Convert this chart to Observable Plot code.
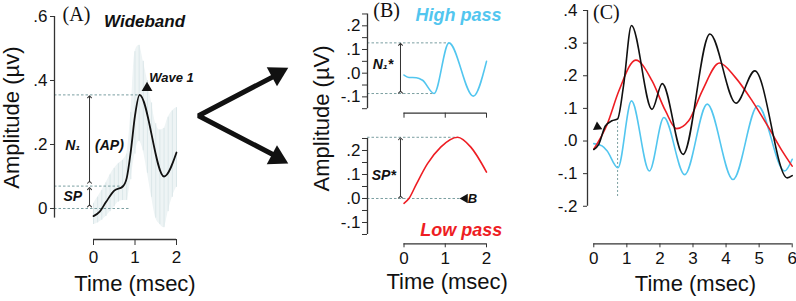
<!DOCTYPE html>
<html><head><meta charset="utf-8">
<script src="https://cdn.jsdelivr.net/npm/d3@7"></script>
<script src="https://cdn.jsdelivr.net/npm/@observablehq/plot@0.6"></script>
<style>
html,body{margin:0;padding:0;background:#fff;}
#chart{position:relative;width:796px;height:301px;overflow:hidden;background:#fff;}
#chart svg{position:absolute;left:0;top:0;}
</style></head><body><div id="chart"></div>
<script>
// ---------- DATA ----------
// Panel A: wideband response (mean) and its error range
const aTime = [0, 0.15, 0.3, 0.5, 0.7, 0.8, 0.9, 1.0, 1.11, 1.7, 2.0];
const aWide = [-0.024, -0.01, 0.02, 0.056, 0.068, 0.095, 0.18, 0.29, 0.355, 0.1, 0.175];
const aErrTime = [0, 0.1, 0.2, 0.3, 0.4, 0.5, 0.6, 0.7, 0.8, 0.9, 1.0, 1.1, 1.2, 1.3, 1.4, 1.5, 1.6, 1.7, 1.8, 1.9, 2.0];
const aErrHigh = [0.015, 0.035, 0.056, 0.08, 0.105, 0.125, 0.14, 0.15, 0.17, 0.30, 0.49, 0.51, 0.46, 0.40, 0.33, 0.265, 0.245, 0.25, 0.285, 0.305, 0.315];
const aErrLow  = [-0.05, -0.045, -0.037, -0.025, -0.01, 0.005, 0.02, 0.025, 0.025, 0.09, 0.17, 0.21, 0.18, 0.11, 0.035, -0.03, -0.05, -0.06, -0.01, 0.035, 0.066];
const aYTicks = [0, 0.2, 0.4, 0.6];
const aYLabels = ["0", ".2", ".4", ".6"];
const aXTicks = [0, 1, 2];
const aXLabels = ["0", "1", "2"];
// Panel A reference levels
const aLevelN1 = 0.355, aLevelSP = 0.07, aLevelBase = 0;

// Panel B: high-pass (top) and low-pass (bottom) components
const bHighTime = [0, 0.12, 0.3, 0.45, 0.73, 1.09, 1.68, 2.0];
const bHigh     = [-0.008, -0.018, -0.019, -0.03, -0.086, 0.128, -0.097, 0.05];
const bLowTime  = [0, 0.12, 0.3, 0.57, 0.89, 1.3, 1.62, 2.0];
const bLow      = [-0.02, 0, 0.06, 0.145, 0.214, 0.255, 0.214, 0.11];
const bYTicks = [-0.15, -0.1, -0.05, 0, 0.05, 0.1, 0.15, 0.2, 0.25];
const bYLabels = ["", "-.1", "", ".0", "", ".1", "", ".2", ""];
const bXTicks = [0, 1, 2];
const bXLabels = ["0", "1", "2"];
const bLevelN1Top = 0.128, bLevelN1Bottom = -0.086, bLevelSP = 0.255, bLevelBase = 0;

// Panel C: wideband, low pass and high pass over 6 ms
const cWideTime = [0, 0.15, 0.35, 0.55, 0.72, 0.9, 1.14, 1.76, 2.07, 2.7, 3.51, 4.3, 4.87, 5.85, 6.0];
const cWide     = [-0.026, -0.01, 0.046, 0.062, 0.068, 0.17, 0.354, 0.097, 0.176, -0.041, 0.328, 0.116, 0.215, -0.113, -0.106];
const cLowTime  = [0, 0.4, 0.76, 1.27, 1.76, 2.17, 2.5, 2.87, 3.28, 3.8, 4.28, 4.79, 5.29, 5.7, 6.0];
const cLow      = [-0.025, 0.05, 0.154, 0.248, 0.185, 0.092, 0.038, 0.062, 0.154, 0.239, 0.195, 0.123, 0.041, -0.031, -0.077];
const cHighTime = [0, 0.25, 0.4, 0.73, 1.14, 1.68, 2.12, 2.75, 3.43, 4.21, 4.96, 5.77, 6.0];
const cHigh     = [-0.008, -0.015, -0.03, -0.082, 0.123, -0.092, 0.072, -0.103, 0.113, -0.118, 0.108, -0.092, -0.056];
const cYTicks = [-0.2, -0.1, 0, 0.1, 0.2, 0.3, 0.4];
const cYLabels = ["-.2", "-.1", ".0", ".1", ".2", ".3", ".4"];
const cXTicks = [0, 1, 2, 3, 4, 5, 6];
const cXLabels = ["0", "1", "2", "3", "4", "5", "6"];
const cPlateauTime = 0.72, cPlateauLevel = 0.068;

const xTitle = "Time (msec)";
const aYTitle = "Amplitude (\u00B5v)";
const bYTitle = "Amplitude (\u00B5V)";

// ---------- STYLE ----------
const SANS = "'Liberation Sans', Arial, Helvetica, sans-serif";
const SERIF = "'Liberation Serif', 'Times New Roman', serif";
const INK = "#111";
const AXIS = "#333";
const CYAN = "#52c6ef";
const RED = "#ee1d23";
const DASH = "#7b9fa1";
const TICK_FS = 17;
const TITLE_FS = 22;

const zip = (ts, vs) => ts.map((t, i) => ({t, v: vs[i]}));
const fmt = (ticks, labels) => { const m = new Map(ticks.map((t, i) => [t, labels[i]])); return d => m.get(d) ?? ""; };
const note = (x, y, label, o = {}) => Plot.text([{x, y, label}], {x: "x", y: "y", text: "label", fontFamily: SANS, fontWeight: "bold", fontStyle: "italic", fontSize: 14, fill: INK, ...o});
const head = (x, y, rotate, r = 3.5) => Plot.dot([{x, y}], {x: "x", y: "y", symbol: "triangle", r, rotate, fill: INK, stroke: "none"});
const dashed = (level, x1, x2, o = {}) => Plot.ruleY([level], {x1, x2, stroke: DASH, strokeDasharray: "2.5,2", strokeWidth: 1, ...o});
const dbl = (x, y1, y2) => Plot.link([{x, y1, y2}], {x1: "x", x2: "x", y1: "y1", y2: "y2", stroke: AXIS, strokeWidth: 1, markerStart: "arrow", markerEnd: "arrow"});
const xLabel = (mid, dy) => Plot.text([xTitle], {x: () => mid, frameAnchor: "bottom", lineAnchor: "middle", dy, fontSize: TITLE_FS, fill: INK});

function panel(o) {
  return Plot.plot({
    width: 796, height: 301,
    marginLeft: o.mL, marginRight: o.mR, marginTop: o.mT, marginBottom: o.mB,
    x: {domain: o.xDomain}, y: {domain: o.yDomain},
    style: {background: "transparent", overflow: "visible", fontFamily: SANS, color: INK},
    marks: o.marks
  });
}

const chart = document.getElementById("chart");

// ---------- PANEL A ----------
const aX = [-0.94, 2.0], aY = [-0.0969, 0.6];
const aErr = aErrTime.map((t, i) => ({t, lo: aErrLow[i], hi: aErrHigh[i]}));
chart.append(panel({
  mL: 54, mR: 620, mT: 16, mB: 62, xDomain: aX, yDomain: aY,
  marks: [
    Plot.areaY(aErr, {x: "t", y1: "lo", y2: "hi", fill: "#eef4f5", curve: "monotone-x"}),
    Plot.ruleX(aErr, {x: "t", y1: "lo", y2: "hi", stroke: "#dbe7e9", strokeWidth: 1}),
    dashed(aLevelN1, aX[0], 1.13),
    dashed(aLevelSP, aX[0], 0.77),
    dashed(aLevelBase, aX[0], 0.9),
    dbl(-0.096, aLevelSP + 0.012, aLevelN1 - 0.006),
    dbl(-0.096, aLevelBase + 0.008, aLevelSP - 0.008),
    Plot.line(zip(aTime, aWide), {x: "t", y: "v", stroke: INK, strokeWidth: 1.8, curve: "monotone-x"}),
    Plot.ruleX([aX[0]], {y1: -0.03, y2: aYTicks[aYTicks.length - 1], stroke: AXIS, strokeWidth: 1.3}),
    Plot.ruleY([aY[0]], {x1: aXTicks[0], x2: aXTicks[aXTicks.length - 1], stroke: AXIS, strokeWidth: 1.3}),
    Plot.axisY(aYTicks, {anchor: "left", tickSize: 4, tickPadding: 3, tickFormat: fmt(aYTicks, aYLabels), fontSize: TICK_FS, stroke: AXIS, label: null}),
    Plot.axisX(aXTicks, {anchor: "bottom", tickSize: 6, tickPadding: 5, tickFormat: fmt(aXTicks, aXLabels), fontSize: TICK_FS, stroke: AXIS, label: null}),
    xLabel(1, 44),
    note(-1.976, 0.284, aYTitle, {rotate: -90, fontSize: TITLE_FS, fontWeight: "normal", fontStyle: "normal"}),
    note(-0.41, 0.605, "(A)", {fontFamily: SERIF, fontWeight: "normal", fontStyle: "normal", fontSize: 20}),
    note(1.23, 0.584, "Wideband", {fontSize: 17}),
    note(1.88, 0.409, "Wave 1", {fontSize: 13}),
    head(1.29, 0.377, 240, 4),
    note(-0.5, 0.197, "N\u2081", {fontSize: 14}),
    note(0.385, 0.197, "(AP)", {fontSize: 14}),
    note(-0.5, 0.036, "SP", {fontSize: 14}),
    // large arrows from wideband to the filtered components
    Plot.line([{t: 4.45, v: 0.42}, {t: 2.53, v: 0.29}, {t: 4.45, v: 0.16}], {x: "t", y: "v", stroke: INK, strokeWidth: 5, strokeLinejoin: "miter", curve: "linear"}),
    head(4.43, 0.421, 61.6, 8),
    head(4.43, 0.159, 118.4, 8)
  ]
}));

// ---------- PANEL B (top: high pass) ----------
const bX = [-0.885, 2.0];
const bTopY = [-0.169, 0.252];
chart.append(panel({
  mL: 367, mR: 310, mT: 13, mB: 188.3, xDomain: bX, yDomain: bTopY,
  marks: [
    dashed(bLevelN1Top, bX[0], 1.09),
    dashed(bLevelN1Bottom, bX[0], 0.73),
    dbl(-0.085, bLevelN1Bottom + 0.006, bLevelN1Top - 0.006),
    Plot.line(zip(bHighTime, bHigh), {x: "t", y: "v", stroke: CYAN, strokeWidth: 1.6, curve: "monotone-x"}),
    Plot.ruleX([bX[0]], {y1: bYTicks[0], y2: bYTicks[bYTicks.length - 1], stroke: AXIS, strokeWidth: 1.3}),
    Plot.ruleY([bTopY[0]], {x1: bXTicks[0], x2: bXTicks[bXTicks.length - 1], stroke: AXIS, strokeWidth: 1.3}),
    Plot.axisY(bYTicks, {anchor: "left", tickSize: 5, tickPadding: 2, tickFormat: fmt(bYTicks, bYLabels), fontSize: TICK_FS, stroke: AXIS, label: null}),
    Plot.axisX(bXTicks, {anchor: "bottom", tickSize: 5, tickPadding: 4, tickFormat: () => "", fontSize: TICK_FS, stroke: AXIS, label: null}),
    note(-1.983, -0.191, bYTitle, {rotate: -90, fontSize: TITLE_FS, fontWeight: "normal", fontStyle: "normal"}),
    note(-0.42, 0.266, "(B)", {fontFamily: SERIF, fontWeight: "normal", fontStyle: "normal", fontSize: 20}),
    note(1.32, 0.243, "High pass", {fontSize: 18, fill: CYAN}),
    note(-0.51, 0.035, "N\u2081*", {fontSize: 14})
  ]
}));

// ---------- PANEL B (bottom: low pass) ----------
const bBotY = [-0.1888, 0.2583];
chart.append(panel({
  mL: 367, mR: 310, mT: 136, mB: 57.7, xDomain: bX, yDomain: bBotY,
  marks: [
    dashed(bLevelSP, bX[0], 1.3),
    dashed(bLevelBase, bX[0], 1.37),
    dbl(-0.085, bLevelBase + 0.006, bLevelSP - 0.006),
    head(1.48, 0, 270, 3.5),
    note(1.66, 0, "B", {fontSize: 13}),
    Plot.line(zip(bLowTime, bLow), {x: "t", y: "v", stroke: RED, strokeWidth: 1.6, curve: "monotone-x"}),
    Plot.ruleX([bX[0]], {y1: bYTicks[0], y2: bYTicks[bYTicks.length - 1], stroke: AXIS, strokeWidth: 1.3}),
    Plot.ruleY([bBotY[0]], {x1: bXTicks[0], x2: bXTicks[bXTicks.length - 1], stroke: AXIS, strokeWidth: 1.3}),
    Plot.axisY(bYTicks, {anchor: "left", tickSize: 5, tickPadding: 2, tickFormat: fmt(bYTicks, bYLabels), fontSize: TICK_FS, stroke: AXIS, label: null}),
    Plot.axisX(bXTicks, {anchor: "bottom", tickSize: 4, tickPadding: 4, tickFormat: fmt(bXTicks, bXLabels), fontSize: TICK_FS, stroke: AXIS, label: null}),
    xLabel(1.047, 38.4),
    note(-0.49, 0.096, "SP*", {fontSize: 14}),
    note(1.39, -0.133, "Low pass", {fontSize: 18, fill: RED})
  ]
}));

// ---------- PANEL C ----------
const cX = [-0.19, 6.0], cY = [-0.315, 0.4];
chart.append(panel({
  mL: 587, mR: 4.3, mT: 10, mB: 57.7, xDomain: cX, yDomain: cY,
  marks: [
    Plot.ruleX([cPlateauTime], {y1: -0.17, y2: cPlateauLevel, stroke: DASH, strokeDasharray: "2,2", strokeWidth: 1}),
    Plot.line(zip(cHighTime, cHigh), {x: "t", y: "v", stroke: CYAN, strokeWidth: 1.6, curve: "monotone-x"}),
    Plot.line(zip(cLowTime, cLow), {x: "t", y: "v", stroke: RED, strokeWidth: 1.6, curve: "monotone-x"}),
    Plot.line(zip(cWideTime, cWide), {x: "t", y: "v", stroke: INK, strokeWidth: 1.6, curve: "monotone-x"}),
    head(0.11, 0.043, 115, 3.5),
    Plot.ruleX([cX[0]], {y1: cYTicks[0], y2: cYTicks[cYTicks.length - 1], stroke: AXIS, strokeWidth: 1.3}),
    Plot.ruleY([cY[0]], {x1: cXTicks[0], x2: cXTicks[cXTicks.length - 1], stroke: AXIS, strokeWidth: 1.3}),
    Plot.axisY(cYTicks, {anchor: "left", tickSize: 4, tickPadding: 6, tickFormat: fmt(cYTicks, cYLabels), fontSize: TICK_FS, stroke: AXIS, label: null}),
    Plot.axisX(cXTicks, {anchor: "bottom", tickSize: 4, tickPadding: 4, tickFormat: fmt(cXTicks, cXLabels), fontSize: TICK_FS, stroke: AXIS, label: null}),
    xLabel(3.076, 39.7),
    note(0.38, 0.394, "(C)", {fontFamily: SERIF, fontWeight: "normal", fontStyle: "normal", fontSize: 20})
  ]
}));
</script></body></html>
